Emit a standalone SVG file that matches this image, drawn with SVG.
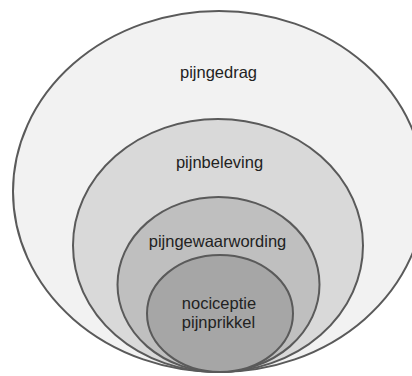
<svg xmlns="http://www.w3.org/2000/svg" width="412" height="376" viewBox="0 0 412 376">
  <style>
    .ring { stroke: #5a5a5a; stroke-width: 2; }
    .lbl { font-family: "Liberation Sans", Arial, sans-serif; font-size: 16.5px; fill: #222; text-anchor: middle; }
  </style>
  <rect width="412" height="376" fill="#ffffff"/>
  <!-- nested layers, all touching at the bottom -->
  <g id="pijngedrag">
    <ellipse class="ring" cx="219" cy="191.5" rx="206" ry="180.5" fill="#f2f2f2"/>
    <text class="lbl" x="218.5" y="78">pijngedrag</text>
  </g>
  <g id="pijnbeleving">
    <ellipse class="ring" cx="218" cy="245.5" rx="145" ry="126.5" fill="#d9d9d9"/>
    <text class="lbl" x="219.5" y="168">pijnbeleving</text>
  </g>
  <g id="pijngewaarwording">
    <ellipse class="ring" cx="218.5" cy="284.5" rx="101" ry="87.5" fill="#bfbfbf"/>
    <text class="lbl" x="217.5" y="247">pijngewaarwording</text>
  </g>
  <g id="nociceptie">
    <ellipse class="ring" cx="220" cy="313.5" rx="73" ry="58.5" fill="#a6a6a6"/>
    <text class="lbl" x="219" y="308.5">nociceptie</text>
    <text class="lbl" x="218.5" y="328">pijnprikkel</text>
  </g>
  <g id="connectors"/>
</svg>
